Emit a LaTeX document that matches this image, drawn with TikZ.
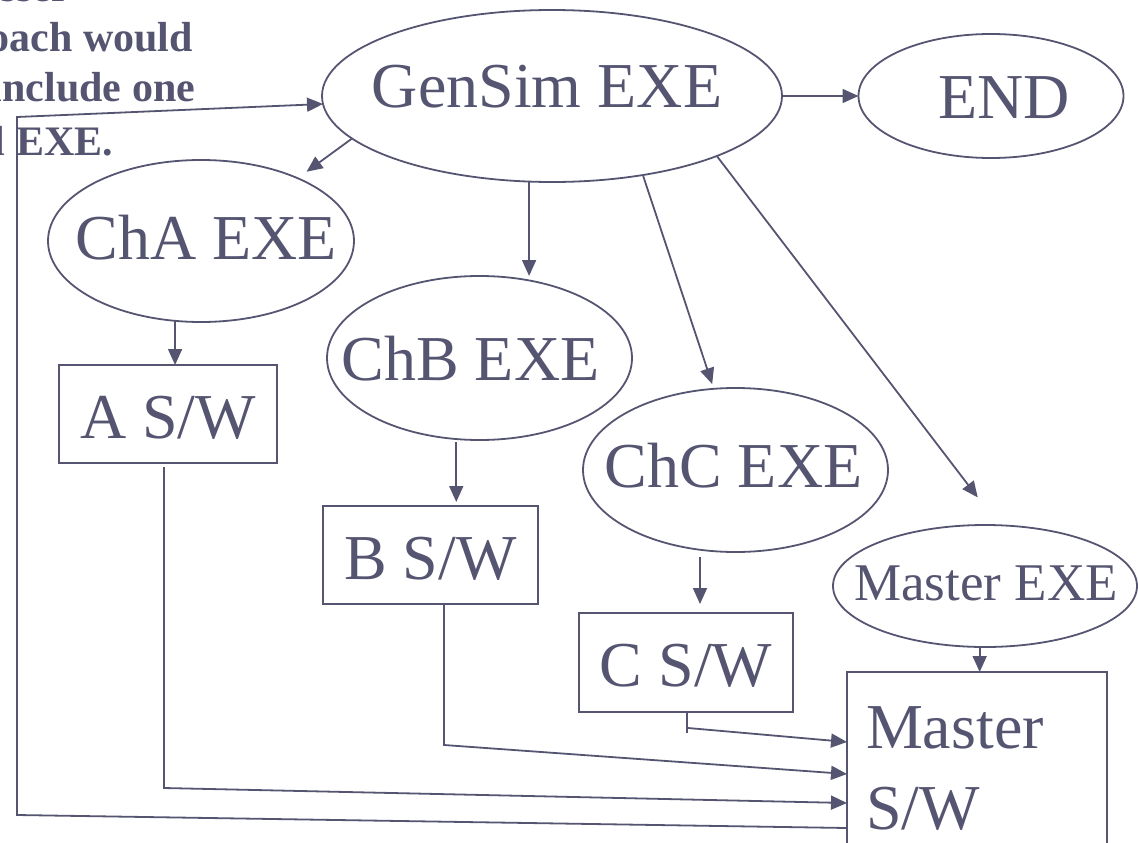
\documentclass[tikz,border=0pt]{standalone}
\usepackage{fontspec}
\setmainfont{Liberation Serif}
\usetikzlibrary{shapes.geometric,arrows.meta,calc}
\definecolor{ink}{RGB}{85,85,114}
% zero-width label (optionally nudged sideways) so the ellipse keeps its given size
\newcommand{\zerowd}[2][0pt]{\makebox[0pt]{\kern#1#2\kern-#1}}
\begin{document}
\begin{tikzpicture}[x=1pt,y=-1pt,
  every node/.style={text=ink, inner sep=0pt, outer sep=0pt},
  big/.style={font=\fontsize{64}{70}\selectfont},
  exe/.style={big, draw=ink, line width=1.8pt, ellipse, text height=44pt},
  sw/.style={big, draw=ink, line width=1.8pt, rectangle, text height=48pt, text depth=0pt},
  link/.style={draw=ink, line width=1.8pt, -{Triangle[length=16pt,width=14pt]}},
  wire/.style={draw=ink, line width=1.8pt},
  note/.style={font=\fontsize{42}{50}\selectfont\bfseries, anchor=base east}]
\useasboundingbox (0,0) rectangle (1138,843);
\clip (0,0) rectangle (1138,843);

% side remark, running off the top-left corner
\node[note] (n1) at (70,2) {lesser};
\node[note] (n2) at (193,52) {approach would};
\node[note] (n3) at (195,102) {include one};
\node[note] (n4) at (113,155) {all EXE.};

% executables
\node[exe, minimum width=460pt, minimum height=172pt, text depth=22pt] (gensim) at (552,96) {\zerowd[-5pt]{GenSim EXE}};
\node[exe, minimum width=265pt, minimum height=124pt, text depth=0pt] (endn) at (991,96) {\zerowd[13pt]{END}};
\node[exe, minimum width=306pt, minimum height=162pt, text depth=8pt] (cha) at (201,241) {\zerowd[5pt]{ChA EXE}};
\node[exe, minimum width=305pt, minimum height=164pt, text depth=0pt] (chb) at (479.5,358) {\zerowd[-9pt]{ChB EXE}};
\node[exe, minimum width=305pt, minimum height=164pt, text depth=10pt] (chc) at (735.5,470) {\zerowd[-2pt]{ChC EXE}};
\node[draw=ink, line width=1.8pt, ellipse, font=\fontsize{53}{60}\selectfont,
      text height=36pt, text depth=8pt, minimum width=304pt, minimum height=122pt] (mexe) at (985,586) {\zerowd[1pt]{Master EXE}};

% software blocks
\node[sw, minimum width=218pt, minimum height=98pt] (asw) at (168,414) {A S/W};
\node[sw, minimum width=215pt, minimum height=98pt] (bsw) at (430.5,555) {B S/W};
\node[sw, minimum width=214pt, minimum height=99pt] (csw) at (686,662.5) {C S/W};
\node[draw=ink, line width=1.8pt, rectangle, minimum width=260pt, minimum height=200pt,
      anchor=north west] (msw) at (847,672) {};
\node[big, anchor=base west] (mswa) at (866,748) {Master};
\node[big, anchor=base west] (mswb) at (866,829) {S/W};

% GenSim fans out
\draw[link] (gensim.east) -- (endn.west);
\draw[link, shorten >=11pt] (gensim.192.6) -- (cha.33);
\draw[link] (gensim.255) -- (gensim.255 |- chb.north);
\draw[link, shorten >=5pt] (gensim.-41) -- (chc.105.5);
\draw[link, shorten >=35pt] (gensim.-20.6) -- (mexe.77.4);

% each EXE loads its software
\draw[link] (cha.252) -- (cha.252 |- asw.north);
\draw[link, shorten <=3pt, shorten >=4pt] (chb.254.5) -- (chb.254.5 |- bsw.north);
\draw[link, shorten <=7pt, shorten >=9pt] (chc.246) -- (chc.246 |- csw.north);
\draw[link] (mexe.265) -- (mexe.265 |- msw.north);

% software feeds the master
\coordinate (aturn) at (164,788);
\coordinate (bturn) at (444,745);
\coordinate (cturn) at (687,733);
\coordinate (cjoin) at (688,728);
\coordinate (cin) at ($(msw.north west)+(0,70)$);
\coordinate (bin) at ($(msw.north west)+(0,102)$);
\coordinate (ain) at ($(msw.north west)+(0,131)$);
\coordinate (lout) at ($(msw.north west)+(0,156)$);
\coordinate (lbot) at (17,815);
\coordinate (ltop) at (17,117);

\draw[wire] (csw.south -| cturn) -- (cturn);
\draw[link] (cjoin) -- (cin);
\draw[link] (bsw.south -| bturn) -- (bturn) -- (bin);
\draw[link, shorten <=4pt] (asw.south -| aturn) -- (aturn) -- (ain);

% loop back to GenSim
\draw[link] (lout) -- (lbot) -- (ltop) -- (gensim.182.8);
\end{tikzpicture}
\end{document}
